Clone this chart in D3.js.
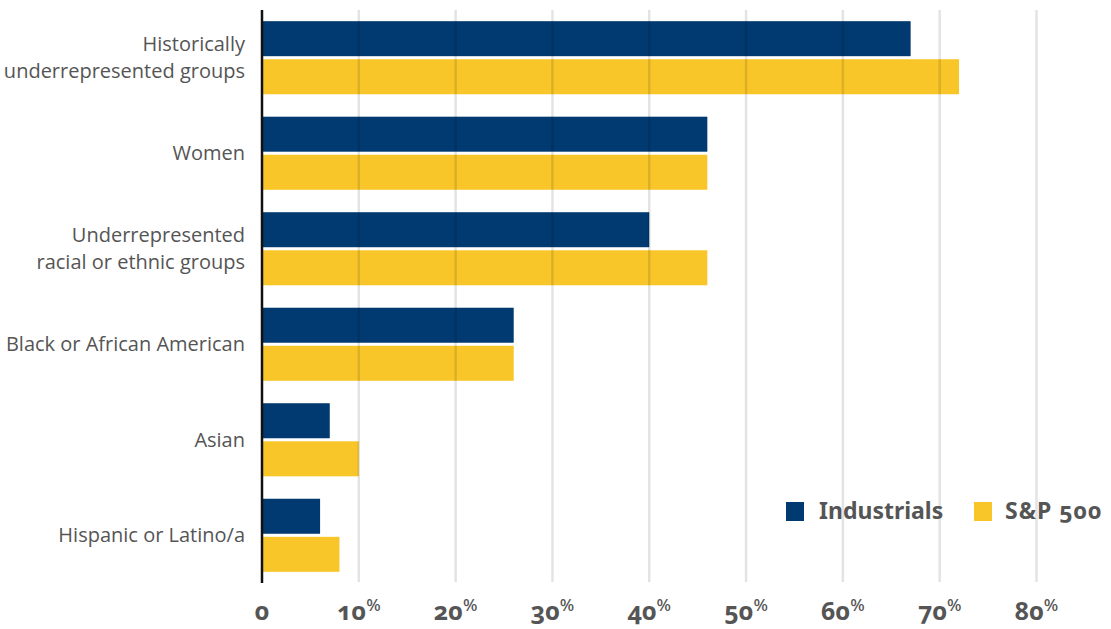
<!DOCTYPE html>
<html>
<head>
<meta charset="utf-8">
<script src="https://cdn.jsdelivr.net/npm/d3@7"></script>
<style>
  body { margin: 0; background: #fff; }
  svg { display: block; }
</style>
</head>
<body>
<div class="svg-container"></div>
<script>
// Share of board seats by group
const categories = [
  ['Historically', 'underrepresented groups'],
  ['Women'],
  ['Underrepresented', 'racial or ethnic groups'],
  ['Black or African American'],
  ['Asian'],
  ['Hispanic or Latino/a'],
];
const seriesNames = ['Industrials', 'S&P 500'];
const industrials = [67, 46, 40, 26, 7, 6];
const sp500 = [72, 46, 46, 26, 10, 8];
const ticks = [0, 10, 20, 30, 40, 50, 60, 70, 80];

const colors = ['#003a70', '#f8c629'];
const textColor = '#555';

const svgWidth = 1111;
const svgHeight = 629;
const margin = { top: 10, right: 74, bottom: 46, left: 262 };
const width = svgWidth - margin.left - margin.right;
const height = svgHeight - margin.top - margin.bottom;

const svg = d3.select('.svg-container')
  .append('svg')
  .attr('width', svgWidth)
  .attr('height', svgHeight);
const group = svg.append('g')
  .attr('transform', `translate(${margin.left}, ${margin.top})`);

const x = d3.scaleLinear().domain([0, 80]).range([0, 774.5]);
const y = d3.scaleBand()
  .domain(d3.range(categories.length))
  .range([0, height])
  .paddingInner(0.235)
  .paddingOuter(0.117);
const inner = d3.scaleBand()
  .domain([0, 1])
  .range([0, y.bandwidth()])
  .paddingInner(0.08);

const rows = categories.map((c, i) => ({ i, label: c, values: [industrials[i], sp500[i]] }));

// bars
const rowG = group.selectAll('.row')
  .data(rows)
  .join('g')
  .attr('class', 'row')
  .attr('transform', (d) => `translate(0, ${y(d.i)})`);

rowG.selectAll('rect')
  .data((d) => d.values)
  .join('rect')
  .attr('x', 1)
  .attr('y', (d, k) => inner(k))
  .attr('height', inner.bandwidth())
  .attr('width', (d) => x(d) - 1)
  .attr('fill', (d, k) => colors[k]);

// gridlines drawn over the bars, semi-transparent
group.append('g')
  .selectAll('line')
  .data(ticks.slice(1))
  .join('line')
  .attr('x1', (d) => x(d))
  .attr('x2', (d) => x(d))
  .attr('y1', 0)
  .attr('y2', height - 1)
  .attr('stroke', 'rgba(0,0,0,0.11)')
  .attr('stroke-width', 2.5);

// y axis line
group.append('line')
  .attr('x1', 0).attr('x2', 0)
  .attr('y1', 0).attr('y2', height)
  .attr('stroke', '#111')
  .attr('stroke-width', 2.5);

// category labels
const labels = group.append('g')
  .attr('font-family', '"Open Sans", Lato, sans-serif')
  .attr('font-size', 20)
  .attr('fill', textColor)
  .attr('text-anchor', 'end');

labels.selectAll('text')
  .data(rows)
  .join('text')
  .attr('transform', (d) => `translate(-17, ${y(d.i) + y.bandwidth() / 2})`)
  .each(function (d) {
    const t = d3.select(this);
    const lh = 27;
    const start = -((d.label.length - 1) * lh) / 2;
    d.label.forEach((line, j) => {
      t.append('tspan')
        .attr('x', 0)
        .attr('y', start + j * lh)
        .attr('dy', '0.35em')
        .text(line);
    });
  });

// x tick labels with superscript percent
const tickG = group.append('g')
  .attr('font-family', '"Noto Sans", Lato, sans-serif')
  .attr('font-weight', 700)
  .attr('font-size', 25)
  .attr('fill', textColor)
  .attr('text-anchor', 'middle')
  .style('font-variant-numeric', 'oldstyle-nums');

tickG.selectAll('text')
  .data(ticks)
  .join('text')
  .attr('x', (d) => x(d))
  .attr('y', height + 37)
  .each(function (d) {
    const t = d3.select(this);
    t.append('tspan').text(d);
    if (d > 0) {
      t.append('tspan')
        .attr('font-size', 17)
        .attr('font-weight', 500)
        .attr('dy', -9)
        .text('%');
    }
  });

// legend
const legend = svg.append('g')
  .attr('transform', 'translate(786, 511)')
  .attr('font-family', '"Noto Sans", Lato, sans-serif')
  .attr('font-weight', 700)
  .attr('font-size', 23)
  .attr('fill', textColor)
  .style('font-variant-numeric', 'oldstyle-nums');

const legendX = [0, 188];
const item = legend.selectAll('g')
  .data(seriesNames)
  .join('g')
  .attr('transform', (d, k) => `translate(${legendX[k]}, 0)`);
item.append('rect')
  .attr('x', 0)
  .attr('y', -9)
  .attr('width', 18)
  .attr('height', 19)
  .attr('fill', (d, k) => colors[k]);
item.append('text')
  .attr('x', (d, k) => (k === 0 ? 33 : 31))
  .attr('dy', '0.35em')
  .attr('letter-spacing', (d, k) => (k === 0 ? 0 : 1))
  .text((d) => d);
</script>
</body>
</html>
